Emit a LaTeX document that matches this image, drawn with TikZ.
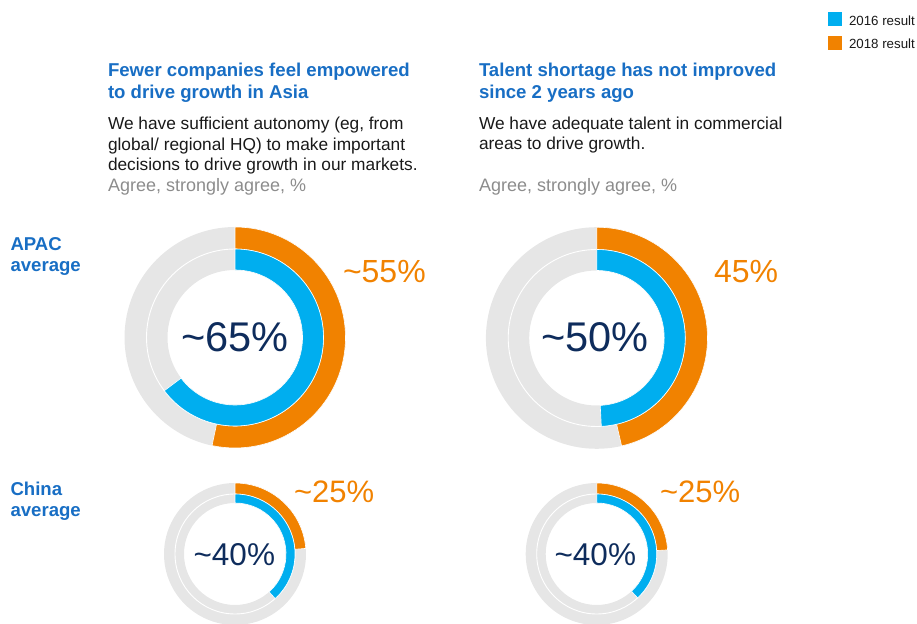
\documentclass[tikz,border=0pt]{standalone}
\usepackage{fontspec}
\setmainfont{Liberation Sans}
\definecolor{ringblue}{RGB}{0,174,239}
\definecolor{ringorange}{RGB}{241,130,0}
\definecolor{ringgray}{RGB}{230,230,230}
\definecolor{titleblue}{RGB}{24,110,196}
\definecolor{navy}{RGB}{14,44,92}
\definecolor{notegray}{RGB}{140,140,140}
\definecolor{bodyblack}{RGB}{25,25,25}
\newcommand\annsec[5]{% color, rin, rout, start, end
  \fill[#1,draw=white,line width=0.6pt] (#4:#3) arc[start angle=#4,end angle=#5,radius=#3]
    -- (#5:#2) arc[start angle=#5,end angle=#4,radius=#2] -- cycle;}
\begin{document}
\begin{tikzpicture}[x=1pt,y=1pt,
  txt/.style={inner sep=0pt,outer sep=0pt,anchor=base west,align=left},
  headline/.style={txt,font=\fontsize{18.6}{21.5}\selectfont\bfseries,text=titleblue},
  bodytext/.style={txt,font=\fontsize{17.3}{20.4}\selectfont,text=bodyblack},
  notetext/.style={txt,font=\fontsize{18}{21}\selectfont,text=notegray},
  sidelabel/.style={txt,font=\fontsize{18.6}{20.8}\selectfont\bfseries,text=titleblue},
  pcttext/.style={txt,font=\fontsize{32}{36}\selectfont,text=ringorange},
  bigcenter/.style={inner sep=0pt,outer sep=0pt,anchor=base,font=\fontsize{41.5}{46}\selectfont,text=navy},
  smallcenter/.style={inner sep=0pt,outer sep=0pt,anchor=base,font=\fontsize{31.5}{36}\selectfont,text=navy},
  legtext/.style={txt,font=\fontsize{13.3}{15}\selectfont,text=bodyblack},
  legbox/.style={minimum width=14pt,minimum height=14pt,inner sep=0pt,outer sep=0pt}
]
\useasboundingbox (0,0) rectangle (917,623);

% legend
\node[legbox,fill=ringblue,anchor=south west] (lb1) at (828,597) {};
\node[legbox,fill=ringorange,anchor=south west] (lb2) at (828,573) {};
\node[legtext] (lt1) at (849,597) {2016 result};
\node[legtext] (lt2) at (849,574.3) {2018 result};

% headers (multi-line nodes: base anchor sits on the last line)
\node[headline] (h1) at (108,524.5) {Fewer companies feel empowered\\to drive growth in Asia};
\node[bodytext] (b1) at (108,452.3) {We have sufficient autonomy (eg, from\\global/ regional HQ) to make important\\decisions to drive growth in our markets.};
\node[notetext] (n1) at (108,431.3) {Agree, strongly agree, \%};

\node[headline] (h2) at (479,524.5) {Talent shortage has not improved\\since 2 years ago};
\node[bodytext] (b2) at (479,473) {We have adequate talent in commercial\\areas to drive growth.};
\node[notetext] (n2) at (479,431.3) {Agree, strongly agree, \%};

% side labels
\node[sidelabel] (s1) at (10.5,351.3) {APAC\\average};
\node[sidelabel] (s2) at (10.5,106.3) {China\\average};

% top-left chart
\begin{scope}[shift={(235,285.5)}]
  \fill[ringgray,even odd rule] (0,0) circle[radius=110.5] (0,0) circle[radius=67.5];
  \draw[white,line width=0.9pt] (0,0) circle[radius=88.5];
  \annsec{ringorange}{88.5}{110.5}{90}{-102}
  \annsec{ringblue}{67.5}{88.5}{90}{-143}
\end{scope}
\node[bigcenter] (c1) at (235,271) {\textasciitilde65\%};
\node[pcttext] (p1) at (343,340) {\textasciitilde55\%};

% top-right chart
\begin{scope}[shift={(596.7,285)}]
  \fill[ringgray,even odd rule] (0,0) circle[radius=110.8] (0,0) circle[radius=67.5];
  \draw[white,line width=0.9pt] (0,0) circle[radius=88.5];
  \annsec{ringorange}{88.5}{110.8}{90}{-77}
  \annsec{ringblue}{67.5}{88.5}{90}{-87}
\end{scope}
\node[bigcenter] (c2) at (595,271.3) {\textasciitilde50\%};
\node[pcttext] (p2) at (714,340) {45\%};

% bottom-left chart
\begin{scope}[shift={(235,69)}]
  \fill[ringgray,even odd rule] (0,0) circle[radius=71] (0,0) circle[radius=51];
  \draw[white,line width=0.9pt] (0,0) circle[radius=60];
  \annsec{ringorange}{60}{71}{90}{4.5}
  \annsec{ringblue}{51}{60}{90}{-48}
\end{scope}
\node[smallcenter] (c3) at (234.3,57) {\textasciitilde40\%};
\node[pcttext,font=\fontsize{31}{36}\selectfont] (p3) at (294,120) {\textasciitilde25\%};

% bottom-right chart
\begin{scope}[shift={(596.7,69)}]
  \fill[ringgray,even odd rule] (0,0) circle[radius=71] (0,0) circle[radius=51];
  \draw[white,line width=0.9pt] (0,0) circle[radius=60];
  \annsec{ringorange}{60}{71}{90}{3.3}
  \annsec{ringblue}{51}{60}{90}{-47}
\end{scope}
\node[smallcenter] (c4) at (595.3,57.3) {\textasciitilde40\%};
\node[pcttext,font=\fontsize{31}{36}\selectfont] (p4) at (660,120) {\textasciitilde25\%};
\end{tikzpicture}
\end{document}
